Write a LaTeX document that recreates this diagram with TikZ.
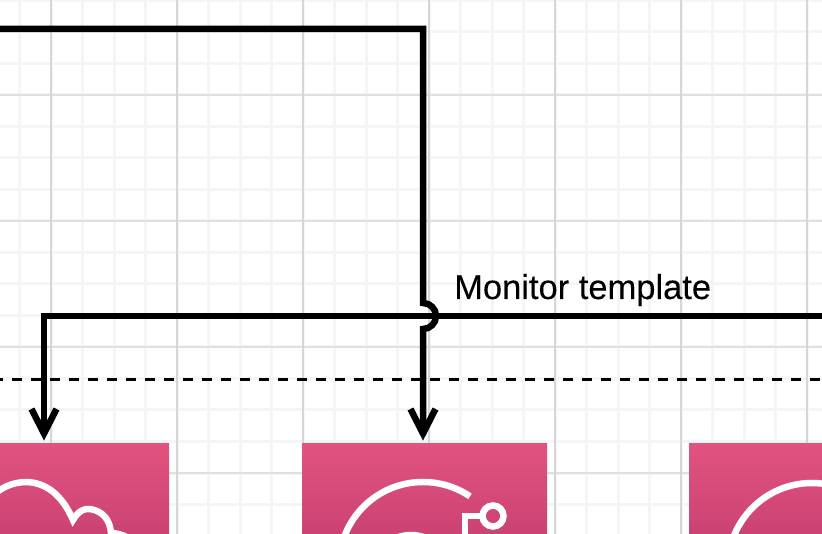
\documentclass[tikz,border=0pt]{standalone}
\usepackage{fontspec}
\setmainfont{Liberation Sans}
\newfontfamily\labfont[FakeBold=0.12]{Liberation Sans}
\usetikzlibrary{arrows.meta}
\definecolor{gridminor}{HTML}{F5F5F5}
\definecolor{gridmajorv}{HTML}{D6D6D6}
\definecolor{gridmajorh}{HTML}{E0E0E0}
\definecolor{pinktop}{HTML}{E2547F}
\definecolor{pinkbot}{HTML}{CB4273}
\tikzset{
  conn/.style={line width=6.5pt,black,miter limit=10},
  openhead/.pic={\draw[conn] (-12.5,-24.5) -- (0,0) -- (12.5,-24.5);},
  pinkbox/.style={inner sep=0pt,outer sep=0pt,minimum height=91pt,anchor=north west,top color=pinktop,bottom color=pinkbot,draw=none},
  glyph/.style={draw=white,line width=6.5pt,fill=none},
  sep/.style={line width=3pt,dash pattern=on 9.5pt off 9.5pt}
}
\begin{document}
\begin{tikzpicture}[x=1pt,y=-1pt]
\useasboundingbox (0,0) rectangle (822,534);
\fill[white] (0,0) rectangle (822,534);
% grid
\foreach \k in {0,...,26}{
  \draw[gridminor,line width=3pt] ({19.5+31.5*\k},0) -- ({19.5+31.5*\k},534);
}
\foreach \k in {0,...,17}{
  \draw[gridminor,line width=3pt] (0,{0.5+31.5*\k}) -- (822,{0.5+31.5*\k});
}
\foreach \k in {0,...,3}{
  \draw[gridmajorh,line width=2pt] (0,{95+126*\k}) -- (822,{95+126*\k});
}
\foreach \k in {0,...,6}{
  \draw[gridmajorv,line width=2pt] ({51+126*\k},0) -- ({51+126*\k},534);
}
% boxes
\node[pinkbox,minimum width=169pt] (boxa) at (0,443) {};
\node[pinkbox,minimum width=245pt] (boxb) at (302,443) {};
\node[pinkbox,minimum width=133pt] (boxc) at (689,443) {};
% glyphs
\begin{scope}
\clip (0,443) rectangle (822,534);
\draw[glyph] (-3,492) .. controls (6,485) and (17,482) .. (27,482)
  .. controls (48,483) and (63,497) .. (73,520)
  .. controls (78,511) and (85,508) .. (90,509)
  .. controls (103,511) and (110,520) .. (111,533)
  .. controls (122,533) and (136,540) .. (142,552);
\draw[glyph] (423,566) ++(-56:84) arc[start angle=-56,end angle=-180,radius=84];
\draw[glyph] (411,575) circle[radius=40];
\draw[glyph] (493,516) circle[radius=10.5];
\draw[glyph] (483,516) -- (465,516) -- (465,540);
\draw[glyph] (812,567) ++(-180:84) arc[start angle=-180,end angle=-60,radius=84];
\end{scope}
% separator
\coordinate (sepl) at (-7,380);
\coordinate (sepr) at (822,380);
\draw[sep] (sepl) -- (sepr);
% connectors
\coordinate (topl) at (0,29);
\coordinate (corner) at (423,29);
\coordinate (jumpa) at (423,303);
\coordinate (rightend) at (822,316);
\coordinate (leftcorner) at (44,316);
\coordinate (tipa) at (44,433.5);
\coordinate (tipb) at (423,433.5);
\draw[conn] (rightend) -- (leftcorner) -- (tipa);
\pic at (tipa) {openhead};
\draw[conn] (topl) -- (corner) -- (jumpa) arc[start angle=-90,end angle=90,radius=13] -- (tipb);
\pic at (tipb) {openhead};
\node[anchor=base west,inner sep=0pt,font=\labfont\fontsize{34.5}{38}\selectfont] (lab) at (454,299) {Monitor template};
\end{tikzpicture}
\end{document}
